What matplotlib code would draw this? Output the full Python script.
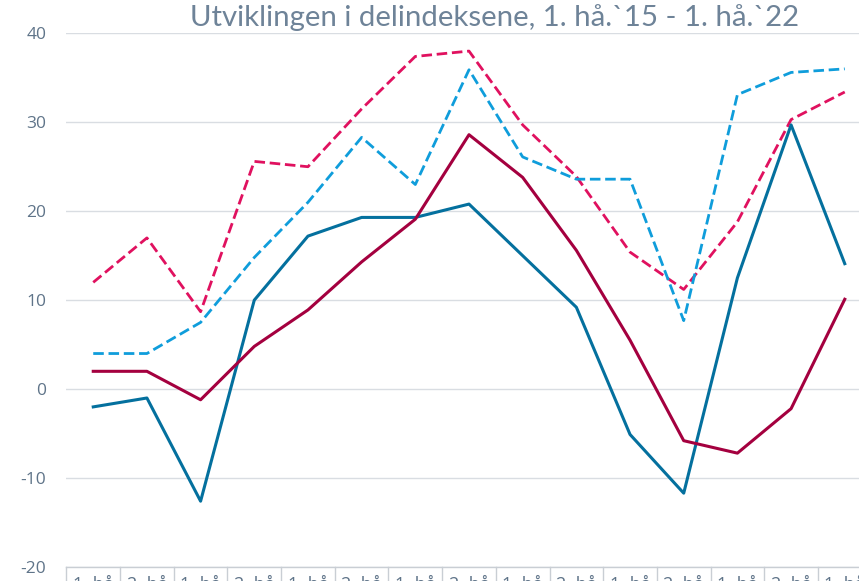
import matplotlib
matplotlib.use("Agg")
import matplotlib.pyplot as plt
import numpy as np

categories = ["1. hå", "2. hå", "1. hå", "2. hå", "1. hå", "2. hå", "1. hå", "2. hå",
              "1. hå", "2. hå", "1. hå", "2. hå", "1. hå", "2. hå", "1. hå"]

teal_solid = [-2.0, -1.0, -12.6, 10.0, 17.2, 19.3, 19.3, 20.8, 15.0, 9.2, -5.1, -11.7, 12.5, 29.7, 14.1]
crimson_solid = [2.0, 2.0, -1.2, 4.8, 8.9, 14.3, 19.1, 28.6, 23.8, 15.6, 5.5, -5.8, -7.2, -2.2, 10.1]
blue_dashed = [4.0, 4.0, 7.5, 14.8, 21.0, 28.3, 23.0, 35.9, 26.1, 23.6, 23.6, 7.7, 33.1, 35.6, 36.0]
pink_dashed = [12.0, 17.0, 8.7, 25.6, 25.0, 31.5, 37.4, 38.0, 29.7, 23.9, 15.4, 11.2, 18.8, 30.3, 33.4]

y_ticks = [-20, -10, 0, 10, 20, 30, 40]
title = "Utviklingen i delindeksene, 1. hå.`15 - 1. hå.`22"

text_color = "#5f7489"
grid_color = "#d9dde2"
font = ["Open Sans", "DejaVu Sans"]

fig = plt.figure(figsize=(8.59, 5.81), dpi=100)
ax = fig.add_axes([66.4 / 859, 14 / 581, 805.2 / 859, 533.7 / 581])

x = np.arange(len(categories))
lw_solid = 2.2
lw_dash = 2.0
ax.plot(x, pink_dashed, color="#e0115f", lw=lw_dash, dashes=(3.8, 1.7), zorder=3)
ax.plot(x, blue_dashed, color="#0f9ddb", lw=lw_dash, dashes=(3.8, 1.7), zorder=3)
ax.plot(x, teal_solid, color="#04709e", lw=lw_solid, zorder=4)
ax.plot(x, crimson_solid, color="#a4003f", lw=lw_solid, zorder=4)

ax.set_xlim(-0.5, len(categories) - 0.5)
ax.set_ylim(-20, 40)
ax.set_yticks(y_ticks)
ax.set_yticklabels([str(v) for v in y_ticks], family=font, fontsize=12.5, color=text_color)
ax.tick_params(axis="y", length=0, pad=14.4)
ax.set_xticks([])
ax.grid(axis="y", color=grid_color, lw=1.0)
ax.set_axisbelow(True)
for s in ax.spines.values():
    s.set_visible(False)

# category table below the plot
trans = ax.get_xaxis_transform()
for i, lab in enumerate(categories):
    ax.text(i, -9 / 533.7, lab, transform=trans, ha="center", va="top",
            fontsize=13, color=text_color, family=font, clip_on=False)
for i in range(len(categories) + 1):
    ax.plot([i - 0.5, i - 0.5], [0, -0.05], transform=trans, color="#c9ced4", lw=1.0, clip_on=False)
ax.plot([-0.5, len(categories) - 0.5], [0, 0], transform=trans, color="#c9ced4", lw=1.0, clip_on=False)

fig.text(495 / 859, 1 - 26 / 581, title, ha="center", va="baseline", fontsize=21.2,
         color="#6e8398", family=["Lato", "DejaVu Sans"])

fig.savefig("out.png", dpi=100)
